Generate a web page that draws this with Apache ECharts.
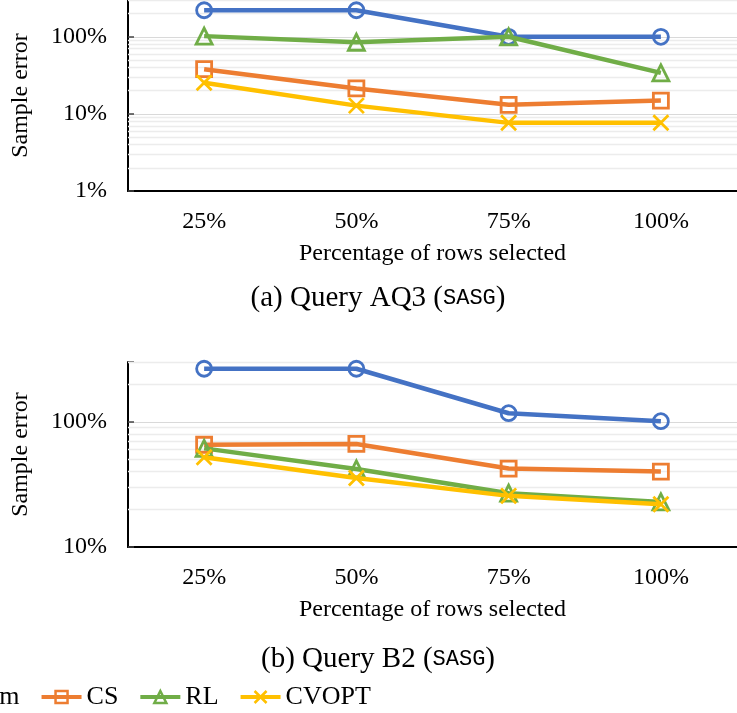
<!DOCTYPE html>
<html>
<head>
<meta charset="utf-8">
<script src="https://cdn.jsdelivr.net/npm/echarts@6/dist/echarts.min.js"></script>
<style>
  html, body { margin: 0; padding: 0; background: #fff; }
  #chart { width: 737px; height: 713px; }
</style>
</head>
<body>
<div id="chart"></div>
<script>
// ---- Data ----
const categories = ['25%', '50%', '75%', '100%'];
const seriesNames = ['Uniform', 'CS', 'RL', 'CVOPT'];

// (a) Query AQ3 (SASG) - sample error in percent
const aq3Uniform = [221, 221, 100, 100];
const aq3CS      = [38, 21.4, 13.1, 14.9];
const aq3RL      = [102, 85, 100, 34];
const aq3CVOPT   = [25.3, 12.8, 7.65, 7.65];

// (b) Query B2 (SASG) - sample error in percent
const b2Uniform = [265, 265, 117, 101];
const b2CS      = [65.5, 66.5, 42.3, 40];
const b2RL      = [61.3, 42, 26.9, 22.9];
const b2CVOPT   = [52, 35.6, 25.6, 21.9];

// axis extents and minor grid values (percent)
const topYMin = 1, topYMax = 300;
const botYMin = 10, botYMax = 300;
const minorGridTop = [2,3,4,5,6,7,8,9,20,30,40,50,60,70,80,90,200,300];
const minorGridBottom = [20,30,40,50,60,70,80,90,200,300];

const xName = 'Percentage of rows selected';
const yName = 'Sample error';
const captionA = ['(a) Query AQ3 (', 'SASG', ')'];
const captionB = ['(b) Query B2 (', 'SASG', ')'];

// ---- Styles ----
const colors = ['#4472C4', '#ED7D31', '#70AD47', '#FFC000'];
const symbols = ['circle', 'rect', 'triangle', 'path://M0,0L10,10M10,0L0,10'];
const symbolSizes = [15, 15, 16, 15];
const serif = 'Liberation Serif';

function isDecade(v) {
  const l = Math.log10(v);
  return Math.abs(l - Math.round(l)) < 1e-6;
}

function xAxisCfg(gridIndex) {
  return {
    type: 'category', gridIndex, data: categories, boundaryGap: true,
    axisLine: { lineStyle: { color: '#000', width: 2 } },
    axisTick: { alignWithLabel: true, length: 5, lineStyle: { color: '#000', width: 1.5 } },
    axisLabel: { color: '#000', fontFamily: serif, fontSize: 24, margin: 19 },
    splitLine: { show: false },
    name: xName, nameLocation: 'middle', nameGap: 51,
    nameTextStyle: { color: '#000', fontFamily: serif, fontSize: 24 }
  };
}
function yAxisCfg(gridIndex, min, max) {
  return {
    type: 'log', logBase: 10, gridIndex, min, max,
    axisLine: { show: true, lineStyle: { color: '#000', width: 2 } },
    axisTick: { show: true, inside: true, length: 6, lineStyle: { color: '#444', width: 1.5 } },
    axisLabel: {
      color: '#000', fontFamily: serif, fontSize: 24, margin: 21,
      formatter: v => isDecade(v) ? Math.round(v) + '%' : ''
    },
    splitLine: { show: true, lineStyle: { color: '#d9d9d9', width: 1.2 } },
    name: yName, nameLocation: 'middle', nameGap: 95,
    nameTextStyle: { color: '#000', fontFamily: serif, fontSize: 24 }
  };
}

function makeSeries(dataArrs, gridIdx, minorVals) {
  return dataArrs.map((d, i) => {
    const s = {
      name: seriesNames[i], type: 'line', xAxisIndex: gridIdx, yAxisIndex: gridIdx,
      data: d, symbol: symbols[i], symbolSize: symbolSizes[i], showAllSymbol: true,
      lineStyle: { color: colors[i], width: 4.5 },
      itemStyle: { color: i === 3 ? colors[i] : 'rgba(255,255,255,0)', borderColor: colors[i], borderWidth: 2.8 },
      emphasis: { disabled: true },
      z: 2 + i
    };
    if (i === 0) {
      s.markLine = {
        silent: true, symbol: 'none', z: 1, animation: false,
        label: { show: false },
        lineStyle: { color: '#ececec', type: 'solid', width: 1.3 },
        data: minorVals.map(v => ({ yAxis: v }))
      };
    }
    return s;
  });
}

const chart = echarts.init(document.getElementById('chart'), null, { renderer: 'canvas' });
chart.setOption({
  animation: false,
  backgroundColor: '#fff',
  color: colors,
  grid: [
    { left: 128, right: -5, top: -3, height: 194 },
    { left: 128, right: -5, top: 362, height: 185 }
  ],
  xAxis: [xAxisCfg(0), xAxisCfg(1)],
  yAxis: [yAxisCfg(0, topYMin, topYMax), yAxisCfg(1, botYMin, botYMax)],
  legend: {
    data: seriesNames, left: -117, top: 684, padding: 0,
    itemWidth: 40, itemHeight: 15, itemGap: 20,
    lineStyle: { width: 4 },
    itemStyle: { borderWidth: 2.5 },
    textStyle: { color: '#000', fontFamily: serif, fontSize: 26 }
  },
  graphic: [
    {
      type: 'text', x: 378, y: 298,
      style: {
        text: '{a|' + captionA[0] + '}{m|' + captionA[1] + '}{a|' + captionA[2] + '}',
        align: 'center', verticalAlign: 'middle', fill: '#000',
        rich: {
          a: { fontFamily: serif, fontSize: 29, fill: '#000' },
          m: { fontFamily: 'Liberation Mono', fontSize: 22, fill: '#000' }
        }
      }
    },
    {
      type: 'text', x: 378, y: 659,
      style: {
        text: '{a|' + captionB[0] + '}{m|' + captionB[1] + '}{a|' + captionB[2] + '}',
        align: 'center', verticalAlign: 'middle', fill: '#000',
        rich: {
          a: { fontFamily: serif, fontSize: 29, fill: '#000' },
          m: { fontFamily: 'Liberation Mono', fontSize: 22, fill: '#000' }
        }
      }
    }
  ],
  series: [
    ...makeSeries([aq3Uniform, aq3CS, aq3RL, aq3CVOPT], 0, minorGridTop),
    ...makeSeries([b2Uniform, b2CS, b2RL, b2CVOPT], 1, minorGridBottom)
  ]
});
</script>
</body>
</html>
